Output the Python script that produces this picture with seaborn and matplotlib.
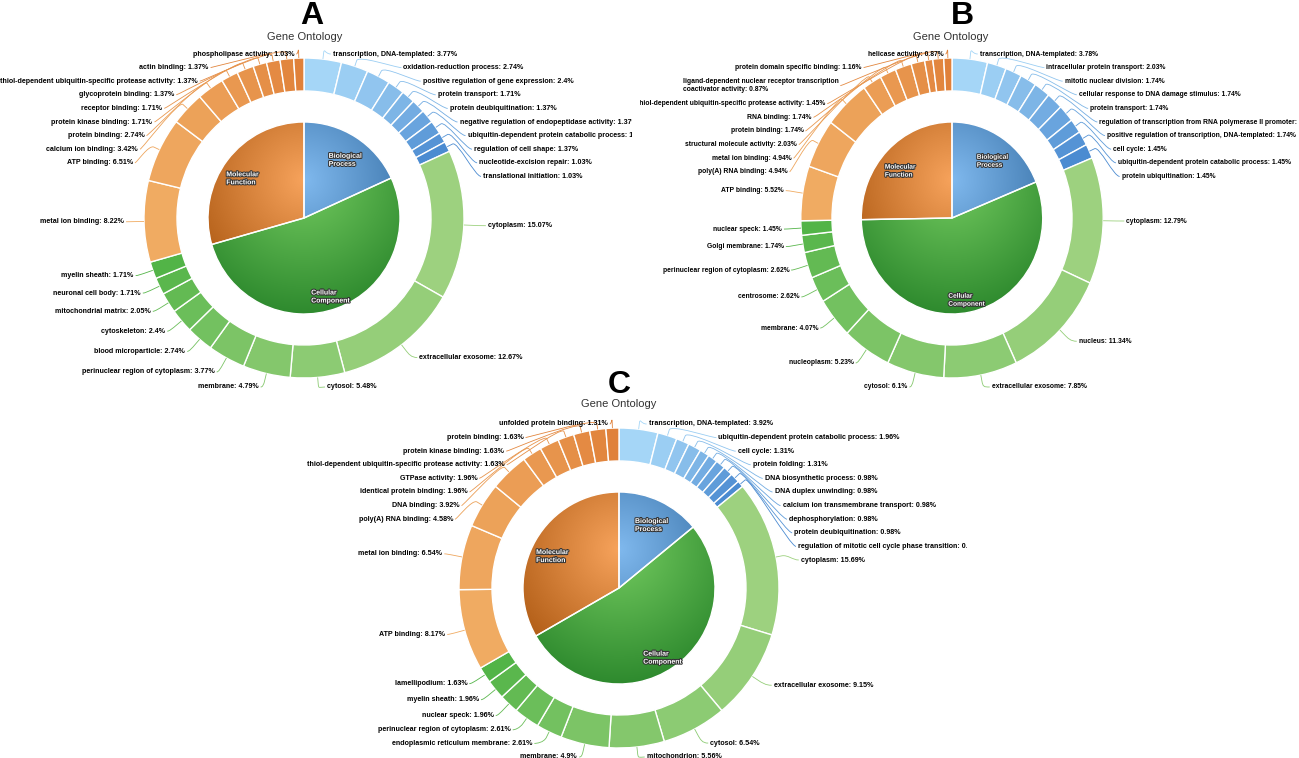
import numpy as np
import matplotlib
matplotlib.use('Agg')
import matplotlib.pyplot as plt
import matplotlib.patheffects as pe
from matplotlib.path import Path
from matplotlib.patches import PathPatch
from matplotlib.colors import to_rgb
import seaborn as sns

sns.set_theme(style='white')
plt.rcParams['font.family'] = ['Liberation Sans', 'DejaVu Sans']

W, H = 1299, 758

# ---------------- panel A ----------------
a_bp_terms = ['transcription, DNA-templated', 'oxidation-reduction process',
              'positive regulation of gene expression', 'protein transport',
              'protein deubiquitination', 'negative regulation of endopeptidase activity',
              'ubiquitin-dependent protein catabolic process', 'regulation of cell shape',
              'nucleotide-excision repair', 'translational initiation']
a_bp_vals = [3.77, 2.74, 2.4, 1.71, 1.37, 1.37, 1.37, 1.37, 1.03, 1.03]
a_cc_terms = ['cytoplasm', 'extracellular exosome', 'cytosol', 'membrane',
              'perinuclear region of cytoplasm', 'blood microparticle', 'cytoskeleton',
              'mitochondrial matrix', 'neuronal cell body', 'myelin sheath']
a_cc_vals = [15.07, 12.67, 5.48, 4.79, 3.77, 2.74, 2.4, 2.05, 1.71, 1.71]
a_mf_terms = ['metal ion binding', 'ATP binding', 'calcium ion binding', 'protein binding',
              'protein kinase binding', 'receptor binding', 'glycoprotein binding',
              'thiol-dependent ubiquitin-specific protease activity', 'actin binding',
              'phospholipase activity']
a_mf_vals = [8.22, 6.51, 3.42, 2.74, 1.71, 1.71, 1.37, 1.37, 1.37, 1.03]

# ---------------- panel B ----------------
b_bp_terms = ['transcription, DNA-templated', 'intracellular protein transport',
              'mitotic nuclear division', 'cellular response to DNA damage stimulus',
              'protein transport', 'regulation of transcription from RNA polymerase II promoter',
              'positive regulation of transcription, DNA-templated', 'cell cycle',
              'ubiquitin-dependent protein catabolic process', 'protein ubiquitination']
b_bp_vals = [3.78, 2.03, 1.74, 1.74, 1.74, 1.74, 1.74, 1.45, 1.45, 1.45]
b_cc_terms = ['cytoplasm', 'nucleus', 'extracellular exosome', 'cytosol', 'nucleoplasm',
              'membrane', 'centrosome', 'perinuclear region of cytoplasm', 'Golgi membrane',
              'nuclear speck']
b_cc_vals = [12.79, 11.34, 7.85, 6.1, 5.23, 4.07, 2.62, 2.62, 1.74, 1.45]
b_mf_terms = ['ATP binding', 'poly(A) RNA binding', 'metal ion binding',
              'structural molecule activity', 'protein binding', 'RNA binding',
              'thiol-dependent ubiquitin-specific protease activity',
              'ligand-dependent nuclear receptor transcription\ncoactivator activity',
              'protein domain specific binding', 'helicase activity']
b_mf_vals = [5.52, 4.94, 4.94, 2.03, 1.74, 1.74, 1.45, 0.87, 1.16, 0.87]

# ---------------- panel C ----------------
c_bp_terms = ['transcription, DNA-templated', 'ubiquitin-dependent protein catabolic process',
              'cell cycle', 'protein folding', 'DNA biosynthetic process',
              'DNA duplex unwinding', 'calcium ion transmembrane transport',
              'dephosphorylation', 'protein deubiquitination',
              'regulation of mitotic cell cycle phase transition']
c_bp_vals = [3.92, 1.96, 1.31, 1.31, 0.98, 0.98, 0.98, 0.98, 0.98, 0.65]
c_cc_terms = ['cytoplasm', 'extracellular exosome', 'cytosol', 'mitochondrion', 'membrane',
              'endoplasmic reticulum membrane', 'perinuclear region of cytoplasm',
              'nuclear speck', 'myelin sheath', 'lamellipodium']
c_cc_vals = [15.69, 9.15, 6.54, 5.56, 4.9, 2.61, 2.61, 1.96, 1.96, 1.63]
c_mf_terms = ['ATP binding', 'metal ion binding', 'poly(A) RNA binding', 'DNA binding',
              'identical protein binding', 'GTPase activity',
              'thiol-dependent ubiquitin-specific protease activity', 'protein kinase binding',
              'protein binding', 'unfolded protein binding']
c_mf_vals = [8.17, 6.54, 4.58, 3.92, 1.96, 1.96, 1.63, 1.63, 1.63, 1.31]

group_names = ['Biological\nProcess', 'Cellular\nComponent', 'Molecular\nFunction']

# colours: (pie light, pie dark), (ring first, ring last)
pie_cols = [('#80b9ee', '#30699f'), ('#74cb60', '#2e8a2e'), ('#f7a35c', '#ab5710')]
ring_cols = [('#a5d6f7', '#4b8bd1'), ('#9dd17f', '#52b447'), ('#f0ab62', '#e0813a')]

R_OUT, R_IN, R_PIE = 160, 127, 96
R_LAB = 176
BREAK = 6
PAD_R, PAD_L = 8, 4
LINE_H, LAB_PAD = 9.0, 4.6
TOP_OFF, BOT_OFF = 164, 169
LAB_FONT = 5.15


def blend(c0, c1, n):
    c0, c1 = np.array(to_rgb(c0)), np.array(to_rgb(c1))
    return [tuple(c0 + (c1 - c0) * j / max(n - 1, 1)) for j in range(n)]


def spread(labs, top, bot):
    # labs sorted top -> bottom, returns final y of each label
    ys = [min(max(l['y0'], bot), top) for l in labs]
    for i in range(1, len(ys)):
        gap = (labs[i - 1]['h'] + labs[i]['h']) / 2
        ys[i] = min(ys[i], ys[i - 1] - gap)
    if ys and ys[-1] < bot:
        ys[-1] = bot
        for i in range(len(ys) - 2, -1, -1):
            gap = (labs[i]['h'] + labs[i + 1]['h']) / 2
            ys[i] = max(ys[i], ys[i + 1] + gap)
    return ys


def draw_panel(fig, box, cx, cy, sx, left_lim, groups):
    # local units: centre of the pie at (0, 0), y up, x squeezed by sx
    x0, x1, y0, y1 = box
    ax = fig.add_axes([x0 / W, 1 - y1 / H, (x1 - x0) / W, (y1 - y0) / H])
    renderer = fig.canvas.get_renderer()

    # inner pie with radial gradient
    sums = [sum(v) for _, v in groups]
    wedges, _ = ax.pie(sums, radius=R_PIE, center=(0, 0), startangle=90,
                       counterclock=False,
                       wedgeprops=dict(edgecolor='white', linewidth=1.0))
    g = np.linspace(-R_PIE, R_PIE, 240)
    XX, YY = np.meshgrid(g, g)
    t = np.clip(np.hypot(XX, YY - 0.4 * R_PIE) / (1.4 * R_PIE), 0, 1)[..., None]
    for w, (c0, c1), name in zip(wedges, pie_cols, group_names):
        img = np.array(to_rgb(c0)) * (1 - t) + np.array(to_rgb(c1)) * t
        im = ax.imshow(img, extent=(-R_PIE, R_PIE, -R_PIE, R_PIE), origin='lower',
                       aspect='auto', interpolation='bilinear', zorder=1)
        im.set_clip_path(w)
        w.set_facecolor('none')
        w.set_zorder(2)
        phi = np.deg2rad((w.theta1 + w.theta2) / 2)
        ax.text(0.8 * R_PIE * np.cos(phi), 0.8 * R_PIE * np.sin(phi) - 7, name,
                ha='center', va='center', multialignment='left', color='white',
                fontsize=5.0 * sx, fontweight='bold', zorder=4,
                path_effects=[pe.withStroke(linewidth=1.5, foreground='#333333')])

    # outer ring
    terms, vals, cols = [], [], []
    for (tm, v), (c0, c1) in zip(groups, ring_cols):
        terms += tm
        vals += v
        cols += blend(c0, c1, len(v))
    ring, _ = ax.pie(vals, radius=R_OUT, center=(0, 0), startangle=90,
                     counterclock=False, colors=cols,
                     wedgeprops=dict(width=R_OUT - R_IN, edgecolor='white', linewidth=1.0))

    ax.set_xlim((x0 - cx) / sx, (x1 - cx) / sx)
    ax.set_ylim(cy - y1, cy - y0)
    ax.set_aspect('auto')
    ax.set_axis_off()

    labs = []
    for w, tm, v, c in zip(ring, terms, vals, cols):
        phi = np.deg2rad((w.theta1 + w.theta2) / 2)
        nl = tm.count('\n') + 1
        labs.append(dict(phi=phi, text=f'{tm}: {v:g}%', col=c,
                         right=np.cos(phi) >= 0,
                         x0=R_LAB * np.cos(phi), y0=R_LAB * np.sin(phi),
                         h=LINE_H * nl + LAB_PAD))

    top, bot = TOP_OFF, -BOT_OFF
    for side in (True, False):
        sgn = 1 if side else -1
        pad = PAD_R if side else PAD_L
        sl = sorted([l for l in labs if l['right'] == side], key=lambda l: -l['y0'])
        fy = spread(sl, top, bot)
        for l, y in zip(sl, fy):
            at_bound = abs(y - top) < 0.5 or abs(y - bot) < 0.5
            if at_bound or abs(y - l['y0']) < 1.5:
                x = l['x0']
            else:
                x = sgn * np.sqrt(max(R_LAB ** 2 - y ** 2, 0))
            txt = ax.text(x + sgn * pad / sx, y, l['text'], ha='left' if side else 'right',
                          va='center', multialignment='left', fontsize=LAB_FONT * sx,
                          fontweight='bold', color='black', clip_on=True, zorder=4)
            if not side:
                left_px = txt.get_window_extent(renderer).x0
                if left_px < left_lim:
                    x += (left_lim - left_px) / sx
                    txt.set_x(x + sgn * pad / sx)
            phi = l['phi']
            tx, ty = R_OUT * np.cos(phi), R_OUT * np.sin(phi)
            bx, by = (R_OUT + BREAK) * np.cos(phi), (R_OUT + BREAK) * np.sin(phi)
            verts = [(tx, ty), (bx, by), (2 * bx - tx, 2 * by - ty), (x, y),
                     (x + sgn * (pad - 2) / sx, y)]
            codes = [Path.MOVETO, Path.LINETO, Path.CURVE4, Path.CURVE4, Path.CURVE4]
            ax.add_patch(PathPatch(Path(verts, codes), fc='none', ec=l['col'], lw=0.6,
                                   zorder=3))
    return ax


fig = plt.figure(figsize=(W / 100, H / 100), dpi=100)

panels = [
    ('A', (0, 632, 0, 400), 304, 218, 1.0, 0, (312, 16), (305, 37),
     [(a_bp_terms, a_bp_vals), (a_cc_terms, a_cc_vals), (a_mf_terms, a_mf_vals)]),
    ('B', (640, 1299, 0, 400), 952, 218, 0.945, 637, (962, 16), (951, 37),
     [(b_bp_terms, b_bp_vals), (b_cc_terms, b_cc_vals), (b_mf_terms, b_mf_vals)]),
    ('C', (280, 967, 365, 758), 619, 588, 1.0, 307, (619, 385), (619, 404),
     [(c_bp_terms, c_bp_vals), (c_cc_terms, c_cc_vals), (c_mf_terms, c_mf_vals)]),
]

for letter, box, cx, cy, sx, left_lim, lpos, tpos, groups in panels:
    draw_panel(fig, box, cx, cy, sx, left_lim, groups)
    fig.text(lpos[0] / W, 1 - lpos[1] / H, letter, ha='center', va='center',
             fontsize=23, fontweight='bold', color='black')
    fig.text(tpos[0] / W, 1 - tpos[1] / H, 'Gene Ontology', ha='center', va='center',
             fontsize=8, color='#333333')

fig.savefig('out.png', dpi=100)
